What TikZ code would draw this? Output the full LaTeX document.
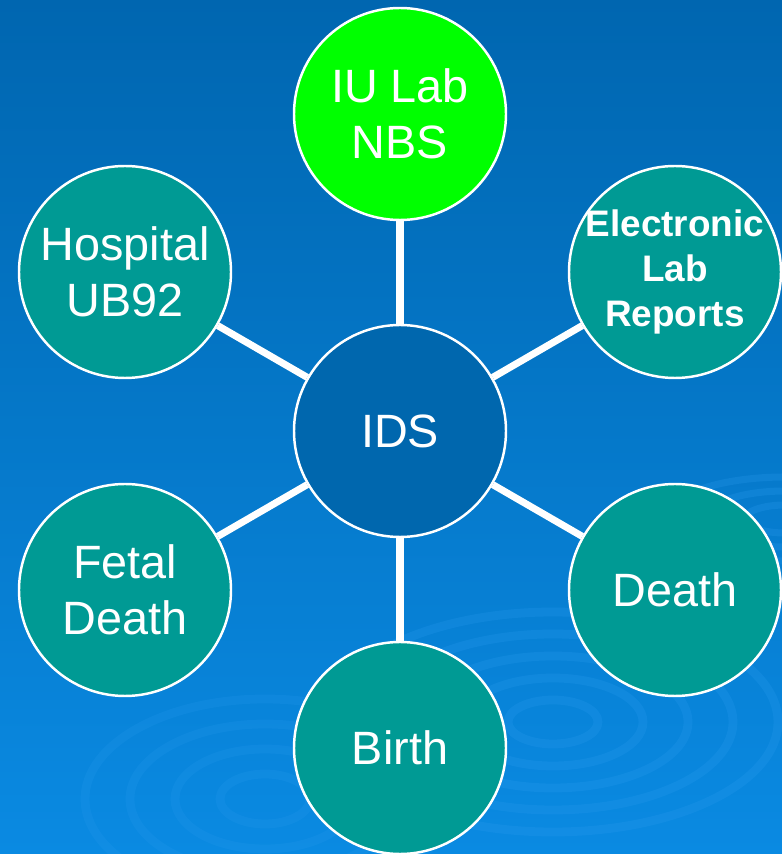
\documentclass[tikz,border=0pt]{standalone}
\usepackage{fontspec}
\setmainfont{Liberation Sans}
\usepackage{tikz}
\definecolor{bgtop}{HTML}{0066B0}
\definecolor{bgmid}{HTML}{006AB6}
\definecolor{bgbot}{HTML}{0A8AE2}
\definecolor{ripple}{HTML}{2A9BEE}
\definecolor{teal}{HTML}{009A94}
\definecolor{hub}{HTML}{0067AE}
\definecolor{lime}{HTML}{00FF00}

\begin{document}
\begin{tikzpicture}[
    src/.style={circle,draw=white,line width=0.7pt,fill=teal,text=white,minimum size=2.12cm,inner sep=0pt,align=center,font=\fontsize{13.3}{16}\selectfont},
    spoke/.style={white,line width=2pt}]
                      \useasboundingbox (0,0) rectangle (7.82,8.54);
                      \shade[top color=bgtop,middle color=bgmid,bottom color=bgbot] (0,0) rectangle (7.82,8.54);
                      % ripples
                      \foreach \r in {1,2,3,4,5}
                        \draw[ripple,opacity=0.25,line width=2.5pt] (5.53,1.32) ellipse ({0.45*\r} and {0.22*\r});
                      \foreach \r in {1,2,3,4}
                        \draw[ripple,opacity=0.2,line width=2.5pt] (2.65,0.55) ellipse ({0.45*\r} and {0.25*\r});
                      \foreach \r in {1,2,3}
                        \draw[ripple,opacity=0.25,line width=2pt] (7.85,3.35) ellipse ({0.4*\r} and {0.14*\r});
                      \node[src,fill=hub](ids)at(4.00,4.23){IDS};
                      \node[src,fill=lime](nbs)at(4.00,7.40){IU Lab\\NBS};
                      \node[src](ub)at(1.25,5.82){Hospital\\UB92};
                      \node[src,inner sep=-0.15cm,font=\fontsize{10.5}{12.8}\selectfont\bfseries](elr)at(6.75,5.82){Electronic\\Lab\\Reports};
                      \node[src](fd)at(1.25,2.64){Fetal\\Death};
                      \node[src](dth)at(6.75,2.64){Death};
                      \node[src](bth)at(4.00,1.06){Birth};
                      \foreach \n in {nbs,ub,elr,fd,dth,bth}
                        \draw[spoke] (ids) -- (\n);
                  \end{tikzpicture}
\end{document}
